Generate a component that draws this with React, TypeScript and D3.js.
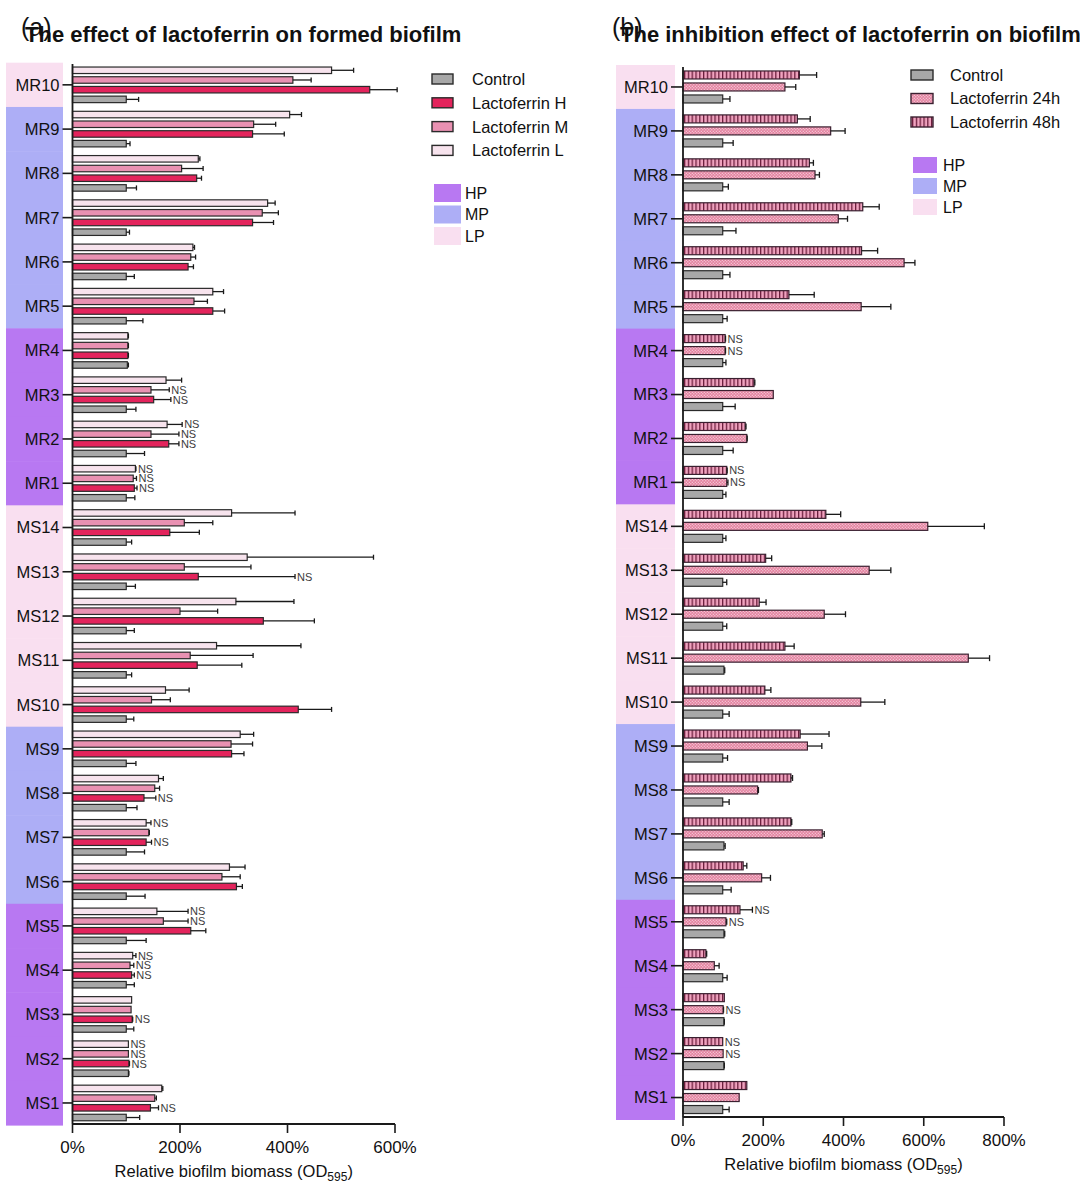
import React from "react";
import * as d3 from "d3";

const FONT = "'Liberation Sans', Arial, Helvetica, sans-serif";

const categories = ["MR10","MR9","MR8","MR7","MR6","MR5","MR4","MR3","MR2","MR1","MS14","MS13","MS12","MS11","MS10","MS9","MS8","MS7","MS6","MS5","MS4","MS3","MS2","MS1"];
const pathotype = ["LP","MP","MP","MP","MP","MP","HP","HP","HP","HP","LP","LP","LP","LP","LP","MP","MP","MP","MP","HP","HP","HP","HP","HP"];
const pathoLabels = ["HP","MP","LP"];
const pathoColors: Record<string,string> = { HP: "#b878f2", MP: "#adaef6", LP: "#f9dff0" };

// Panel (a): formed biofilm — values in %
const aL = [482,404,234,363,224,261,103,174,176,117,296,325,304,268,173,312,160,137,292,157,112,110,104,166];
const aLErr = [41,22,3,14,3,20,1,29,28,1,118,235,108,157,44,25,9,9,29,58,6,0,0,2];
const aLNS = [0,0,0,0,0,0,0,0,1,1,0,0,0,0,0,0,0,1,0,1,1,0,1,0];
const aM = [410,337,203,353,220,226,103,146,146,113,208,208,200,219,147,295,153,142,278,169,107,109,104,153];
const aMErr = [34,41,40,30,9,25,1,34,52,6,53,124,70,117,35,40,9,1,34,46,7,0,0,3];
const aMNS = [0,0,0,0,0,0,0,1,1,1,0,0,0,0,0,0,0,0,0,1,1,0,1,0];
const aH = [553,335,231,335,215,261,103,151,179,115,181,234,355,232,420,296,133,137,305,220,110,111,105,145];
const aHErr = [51,59,9,39,10,22,1,32,19,5,55,180,95,83,62,23,22,10,11,28,5,1,1,15];
const aHNS = [0,0,0,0,0,0,0,1,1,1,0,1,0,0,0,0,1,1,0,0,1,1,1,1];
const aC = [100,100,100,100,100,100,102,100,100,100,100,100,100,100,100,100,100,100,100,100,100,100,104,100];
const aCErr = [23,7,19,6,15,31,2,18,34,16,10,17,15,10,14,18,20,34,35,37,15,14,1,25];
const aTicks = [0,200,400,600];

// Panel (b): inhibition — values in %
const b48 = [290,285,315,448,445,264,105,177,155,109,356,206,190,254,204,292,269,269,150,142,57,103,99,159];
const b48Err = [43,32,10,41,40,63,1,2,2,1,37,15,17,23,15,72,4,2,9,31,2,0,0,0];
const b48NS = [0,0,0,0,0,0,1,0,0,1,0,0,0,0,0,0,0,0,0,1,0,0,1,0];
const b24 = [254,368,329,387,551,444,105,225,159,109,610,464,352,711,443,310,186,347,196,107,78,100,100,140];
const b24Err = [27,36,11,23,27,74,1,0,1,3,141,54,53,53,60,36,2,5,22,2,12,1,0,0];
const b24NS = [0,0,0,0,0,0,1,0,0,1,0,0,0,0,0,0,0,0,0,1,0,1,1,0];
const bC = [99,99,99,99,99,99,99,99,99,99,99,99,99,102,99,99,99,102,99,102,99,102,102,99];
const bCErr = [18,26,14,33,18,11,8,31,26,8,8,10,10,2,16,12,16,3,21,2,11,1,1,16];
const bTicks = [0,200,400,600,800];

type Series = { name: string; values: number[]; errs: number[]; ns: number[]; fill: string; stroke: string };

const aSeries: Series[] = [
  { name: "Lactoferrin L", values: aL, errs: aLErr, ns: aLNS, fill: "#f7e3ed", stroke: "#2a2a2a" },
  { name: "Lactoferrin M", values: aM, errs: aMErr, ns: aMNS, fill: "#e991b2", stroke: "#2a2a2a" },
  { name: "Lactoferrin H", values: aH, errs: aHErr, ns: aHNS, fill: "#e3245c", stroke: "#2a2a2a" },
  { name: "Control", values: aC, errs: aCErr, ns: aC.map(() => 0), fill: "#a8a8a8", stroke: "#2a2a2a" },
];
const aLegend = ["Control", "Lactoferrin H", "Lactoferrin M", "Lactoferrin L"];

const bSeries: Series[] = [
  { name: "Lactoferrin 48h", values: b48, errs: b48Err, ns: b48NS, fill: "url(#pat48)", stroke: "#3a2030" },
  { name: "Lactoferrin 24h", values: b24, errs: b24Err, ns: b24NS, fill: "url(#pat24)", stroke: "#3a2030" },
  { name: "Control", values: bC, errs: bCErr, ns: bC.map(() => 0), fill: "#a8a8a8", stroke: "#2a2a2a" },
];
const bLegend = ["Control", "Lactoferrin 24h", "Lactoferrin 48h"];

type PanelCfg = {
  series: Series[];
  legend: string[];
  xMax: number;
  xRange: [number, number];
  yRange: [number, number];
  axisTop: number;
  axisY: number;
  barStep: number;
  barH: number;
  capH: number;
  ticks: number[];
  bandX: [number, number];
  labelGap: number;
  tickLen: number;
  title: string;
  tag: string;
  titleX: number;
  tagX: number;
  legSwX: number;
  legSwW: number;
  legTextX: number;
  legY0: number;
  legStep: number;
  pSwX: number;
  pSwW: number;
  pTextX: number;
  pY0: number;
  pStep: number;
  pSwH: number;
};

function Panel({ c }: { c: PanelCfg }) {
  const x = d3.scaleLinear().domain([0, c.xMax]).range(c.xRange);
  const y = d3.scaleBand<string>().domain(categories).range(c.yRange).padding(0);
  const bw = y.bandwidth();
  const n = c.series.length;
  const x0 = x(0);
  const seriesByName: Record<string, Series> = {};
  c.series.forEach((s) => (seriesByName[s.name] = s));

  return (
    <g>
      {/* pathotype bands */}
      {categories.map((cat, i) => (
        <rect key={"band" + cat} x={c.bandX[0]} y={y(cat)!} width={c.bandX[1] - c.bandX[0]} height={bw + 0.5}
          fill={pathoColors[pathotype[i]]} />
      ))}
      {/* bars */}
      {categories.map((cat, i) => {
        const yc = y(cat)! + bw / 2;
        return (
          <g key={"g" + cat}>
            {c.series.map((s, j) => {
              const by = yc + (j - (n - 1) / 2) * c.barStep;
              const v = s.values[i];
              const e = s.errs[i];
              const xe = x(v + e);
              const xEnd = x(v);
              return (
                <g key={s.name}>
                  <rect x={x0} y={by - c.barH / 2} width={xEnd - x0} height={c.barH}
                    fill={s.fill} stroke={s.stroke} strokeWidth={1.2} />
                  {e > 0 && (
                    <g stroke="#1a1a1a" strokeWidth={1.3}>
                      <line x1={xEnd} x2={xe} y1={by} y2={by} />
                      <line x1={xe} x2={xe} y1={by - c.capH / 2} y2={by + c.capH / 2} />
                    </g>
                  )}
                  {s.ns[i] === 1 && (
                    <text x={Math.max(xe, xEnd) + 2} y={by} dy="0.36em" fontSize={11} fill="#3c3c3c"
                      fontFamily={FONT}>NS</text>
                  )}
                </g>
              );
            })}
          </g>
        );
      })}
      {/* y axis */}
      <line x1={x0} x2={x0} y1={c.axisTop} y2={c.axisY} stroke="#1a1a1a" strokeWidth={1.8} />
      {categories.map((cat) => {
        const yc = y(cat)! + bw / 2;
        return (
          <g key={"yt" + cat}>
            <line x1={x0 - c.tickLen} x2={x0} y1={yc} y2={yc} stroke="#1a1a1a" strokeWidth={1.6} />
            <text x={x0 - c.labelGap} y={yc} dy="0.36em" textAnchor="end" fontSize={16.5}
              fontFamily={FONT} fill="#111">{cat}</text>
          </g>
        );
      })}
      {/* x axis */}
      <line x1={x0} x2={c.xRange[1]} y1={c.axisY} y2={c.axisY} stroke="#1a1a1a" strokeWidth={1.8} />
      {c.ticks.map((t) => (
        <g key={"xt" + t}>
          <line x1={x(t)} x2={x(t)} y1={c.axisY} y2={c.axisY + 9} stroke="#1a1a1a" strokeWidth={1.6} />
          <text x={x(t)} y={c.axisY + 29} textAnchor="middle" fontSize={17} fontFamily={FONT} fill="#111">
            {t + "%"}
          </text>
        </g>
      ))}
      <text x={(c.xRange[0] + c.xRange[1]) / 2} y={c.axisY + 53} textAnchor="middle" fontSize={16.5}
        fontFamily={FONT} fill="#111">
        Relative biofilm biomass (OD<tspan fontSize={12} dy={4}>595</tspan><tspan dy={-4}>)</tspan>
      </text>
      {/* titles */}
      <text x={c.titleX} y={41.5} fontSize={22} fontWeight="bold" fontFamily={FONT} fill="#111">{c.title}</text>
      <text x={c.tagX} y={36} fontSize={25} fontFamily={FONT} fill="#111">{c.tag}</text>
      {/* series legend */}
      {c.legend.map((name, k) => {
        const s = seriesByName[name];
        const ly = c.legY0 + k * c.legStep;
        return (
          <g key={"leg" + name}>
            <rect x={c.legSwX} y={ly - 5} width={c.legSwW} height={10} fill={s.fill} stroke={s.stroke} strokeWidth={1.4} />
            <text x={c.legTextX} y={ly} dy="0.36em" fontSize={16.5} fontFamily={FONT} fill="#111">{name}</text>
          </g>
        );
      })}
      {/* pathotype legend */}
      {pathoLabels.map((p, k) => {
        const ly = c.pY0 + k * c.pStep;
        return (
          <g key={"pl" + p}>
            <rect x={c.pSwX} y={ly - c.pSwH / 2} width={c.pSwW} height={c.pSwH} fill={pathoColors[p]} />
            <text x={c.pTextX} y={ly} dy="0.36em" fontSize={16} fontFamily={FONT} fill="#111">{p}</text>
          </g>
        );
      })}
    </g>
  );
}

const cfgA: PanelCfg = {
  series: aSeries, legend: aLegend, xMax: 600, xRange: [72.5, 395], yRange: [62.7, 1125.1],
  axisTop: 64, axisY: 1124, barStep: 9.7, barH: 6.5, capH: 5, ticks: aTicks, bandX: [6, 63],
  labelGap: 13, tickLen: 10, title: "The effect of lactoferrin on formed biofilm", tag: "(a)",
  titleX: 25, tagX: 21, legSwX: 432, legSwW: 21, legTextX: 472, legY0: 79, legStep: 23.8,
  pSwX: 434, pSwW: 27, pTextX: 465, pY0: 193, pStep: 21.5, pSwH: 18,
};

const cfgB: PanelCfg = {
  series: bSeries, legend: bLegend, xMax: 800, xRange: [683, 1004], yRange: [65.0, 1119.5],
  axisTop: 67, axisY: 1117, barStep: 12, barH: 8, capH: 6, ticks: bTicks, bandX: [616, 675],
  labelGap: 15, tickLen: 12, title: "The inhibition effect of lactoferrin on biofilm", tag: "(b)",
  titleX: 620, tagX: 612, legSwX: 911, legSwW: 22, legTextX: 950, legY0: 75, legStep: 23.5,
  pSwX: 913, pSwW: 24, pTextX: 943, pY0: 165, pStep: 21, pSwH: 16,
};

export default function App() {
  return (
    <div style={{ position: "absolute", left: 0, top: 0 }}>
      <svg width={1080} height={1185} viewBox="0 0 1080 1185" style={{ display: "block", background: "#fff" }}>
        <defs>
          <pattern id="pat24" patternUnits="userSpaceOnUse" width={3} height={3}>
            <rect width={3} height={3} fill="#e3819f" />
            <rect x={0.25} y={0.25} width={1.1} height={1.1} fill="#f9dbe6" />
            <rect x={1.75} y={1.75} width={1.1} height={1.1} fill="#f9dbe6" />
          </pattern>
          <pattern id="pat48" patternUnits="userSpaceOnUse" width={3.8} height={10}>
            <rect width={3.8} height={10} fill="#f0a3bf" />
            <rect x={0} y={0} width={1.3} height={10} fill="#6b1d3c" />
          </pattern>
        </defs>
        <rect width={1080} height={1185} fill="#fff" />
        <Panel c={cfgA} />
        <Panel c={cfgB} />
      </svg>
    </div>
  );
}
